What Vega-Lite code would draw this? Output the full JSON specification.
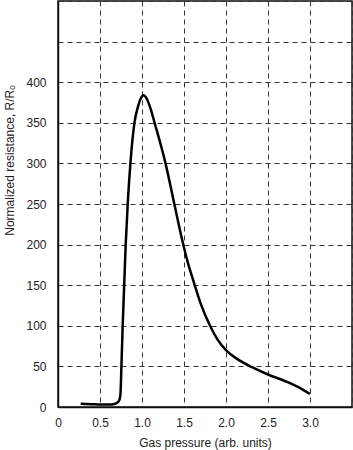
{
  "$schema": "https://vega.github.io/schema/vega-lite/v6.json",
  "width": 294,
  "height": 406,
  "autosize": "none",
  "padding": {"left": 58, "top": 1, "right": 1, "bottom": 43},
  "background": "white",
  "config": {
    "view": {"stroke": "#111", "strokeWidth": 1.5},
    "font": "Liberation Sans",
    "axis": {
      "labelFont": "Liberation Sans",
      "titleFont": "Liberation Sans",
      "labelFontSize": 12,
      "titleFontSize": 12,
      "titleFontWeight": "normal",
      "labelColor": "#222",
      "titleColor": "#222",
      "ticks": false,
      "domainColor": "#111",
      "domainWidth": 1.5,
      "gridColor": "#333",
      "gridOpacity": 1,
      "gridWidth": 1,
      "gridDash": [5, 4]
    }
  },
  "data": {
    "values": [
      {"p": 0.27, "r": 4},
      {"p": 0.4, "r": 3.5},
      {"p": 0.5, "r": 3},
      {"p": 0.6, "r": 3},
      {"p": 0.66, "r": 3.5},
      {"p": 0.7, "r": 5},
      {"p": 0.728, "r": 8},
      {"p": 0.743, "r": 15},
      {"p": 0.755, "r": 50},
      {"p": 0.77, "r": 100},
      {"p": 0.788, "r": 150},
      {"p": 0.806, "r": 200},
      {"p": 0.83, "r": 250},
      {"p": 0.862, "r": 300},
      {"p": 0.91, "r": 350},
      {"p": 0.95, "r": 369},
      {"p": 0.985, "r": 380},
      {"p": 1.02, "r": 384},
      {"p": 1.06, "r": 379},
      {"p": 1.1, "r": 368},
      {"p": 1.15, "r": 350},
      {"p": 1.28, "r": 300},
      {"p": 1.385, "r": 250},
      {"p": 1.48, "r": 205},
      {"p": 1.54, "r": 180},
      {"p": 1.61, "r": 156},
      {"p": 1.7, "r": 127},
      {"p": 1.81, "r": 100},
      {"p": 1.9, "r": 83},
      {"p": 2.0, "r": 70},
      {"p": 2.15, "r": 58},
      {"p": 2.31, "r": 49},
      {"p": 2.5, "r": 40},
      {"p": 2.7, "r": 32},
      {"p": 2.85, "r": 25},
      {"p": 3.0, "r": 16}
    ]
  },
  "mark": {"type": "line", "color": "#000", "strokeWidth": 2.5, "interpolate": "monotone"},
  "encoding": {
    "x": {
      "field": "p",
      "type": "quantitative",
      "scale": {"domain": [0, 3.5], "nice": false, "zero": false},
      "axis": {
        "title": "Gas pressure (arb. units)",
        "values": [0, 0.5, 1, 1.5, 2, 2.5, 3, 3.5],
        "labelExpr": "datum.value == 0 ? '0' : datum.value > 3.2 ? '' : format(datum.value, '.1f')",
        "labelPadding": 10,
        "titlePadding": 9,
        "labelFlush": false
      }
    },
    "y": {
      "field": "r",
      "type": "quantitative",
      "scale": {"domain": [0, 500], "nice": false},
      "axis": {
        "title": "Normalized resistance, R/Rₒ",
        "titleY": 159,
        "values": [0, 50, 100, 150, 200, 250, 300, 350, 400, 450, 500],
        "labelExpr": "datum.value > 420 ? '' : datum.label",
        "labelPadding": 12,
        "titlePadding": 9,
        "labelFlush": false
      }
    }
  }
}
